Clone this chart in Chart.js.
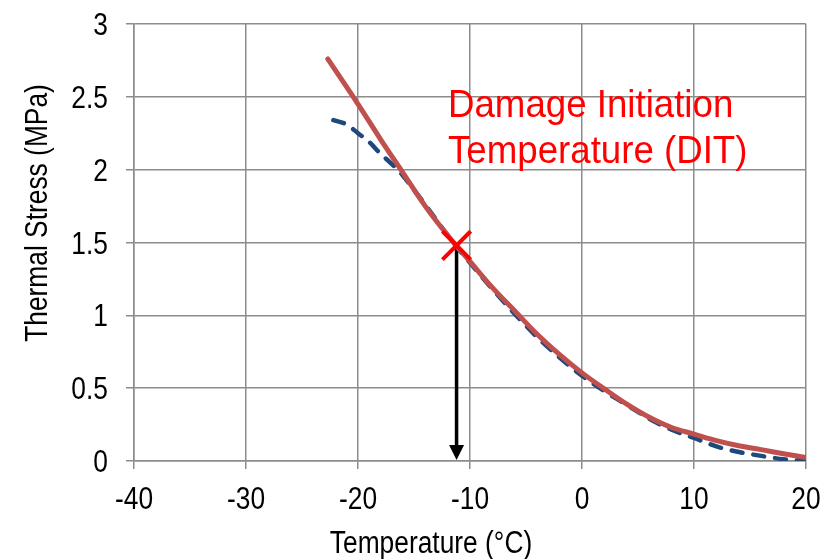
<!DOCTYPE html>
<html>
<head>
<meta charset="utf-8">
<script src="https://cdn.jsdelivr.net/npm/chart.js@4.4.1/dist/chart.umd.min.js"></script>
<style>
  html, body { margin: 0; padding: 0; background: #fff; }
</style>
</head>
<body>
<canvas id="stress-chart" width="831" height="559"></canvas>
<script>
const FONT = "'Liberation Sans', Arial, sans-serif";
const NARROW = 0.85; // condensed look for axis text

// predicted thermal stress (solid curve)
const modelTemp   = [-22.7, -20, -18, -16, -14, -12, -10, -8, -6, -4, -2, 0, 2, 4, 6, 8, 10, 12, 14, 16, 18, 20];
const modelStress = [2.76, 2.45, 2.21, 1.98, 1.75, 1.55, 1.37, 1.19, 1.03, 0.87, 0.73, 0.605, 0.495, 0.39, 0.30, 0.23, 0.185, 0.14, 0.105, 0.078, 0.05, 0.024];

// measured thermal stress (dashed curve)
const testTemp   = [-22.2, -21, -20, -19, -18, -17, -16, -15, -14, -12, -10, -8, -6, -4, -2, 0, 2, 4, 6, 8, 10, 12, 14, 16, 18, 20];
const testStress = [2.34, 2.31, 2.25, 2.19, 2.11, 2.04, 1.96, 1.86, 1.76, 1.55, 1.36, 1.18, 1.01, 0.85, 0.71, 0.585, 0.48, 0.385, 0.29, 0.215, 0.158, 0.10, 0.062, 0.035, 0.012, 0.002];

// damage initiation point
const ditTemp = -11.2;
const ditStress = 1.48;

const noteLines = ['Damage Initiation', 'Temperature (DIT)'];
const xTitle = 'Temperature (°C)';
const yTitle = 'Thermal Stress (MPa)';

const toPoints = (xs, ys) => xs.map((v, i) => ({ x: v, y: ys[i] }));
const fmt = (v) => String(Number(v.toFixed(2)));

function squeezedText(ctx, text, x, y, align, sx) {
  ctx.save();
  ctx.translate(x, y);
  ctx.scale(sx, 1);
  ctx.textAlign = align;
  ctx.fillText(text, 0, 0);
  ctx.restore();
}

// arrow under the DIT marker, tick labels, axis titles and the red note
const extras = {
  id: 'extras',
  beforeDatasetsDraw(chart) {
    const { ctx, scales: { x, y } } = chart;
    const px = x.getPixelForValue(ditTemp);
    const top = y.getPixelForValue(ditStress);
    const bottom = y.getPixelForValue(0);
    ctx.save();
    ctx.strokeStyle = '#000';
    ctx.lineWidth = 3.5;
    ctx.beginPath();
    ctx.moveTo(px, top);
    ctx.lineTo(px, bottom - 12);
    ctx.stroke();
    ctx.fillStyle = '#000';
    ctx.beginPath();
    ctx.moveTo(px - 7.5, bottom - 16);
    ctx.lineTo(px + 7.5, bottom - 16);
    ctx.lineTo(px, bottom - 1);
    ctx.closePath();
    ctx.fill();
    ctx.restore();
  },
  afterDraw(chart) {
    const { ctx, scales: { x, y } } = chart;
    ctx.save();
    ctx.fillStyle = '#000';
    ctx.font = '31px ' + FONT;
    ctx.textBaseline = 'alphabetic';
    y.ticks.forEach((t) => {
      squeezedText(ctx, fmt(t.value), 108, y.getPixelForValue(t.value) + 11, 'right', NARROW);
    });
    x.ticks.forEach((t) => {
      squeezedText(ctx, fmt(t.value), x.getPixelForValue(t.value), 509, 'center', NARROW);
    });
    squeezedText(ctx, xTitle, 431, 553, 'center', NARROW);
    ctx.translate(47, 213);
    ctx.rotate(-Math.PI / 2);
    squeezedText(ctx, yTitle, 0, 0, 'center', NARROW);
    ctx.restore();

    ctx.save();
    ctx.fillStyle = '#ff0000';
    ctx.font = '39px ' + FONT;
    squeezedText(ctx, noteLines[0], 448, 117, 'left', 0.94);
    squeezedText(ctx, noteLines[1], 448, 163, 'left', 0.94);
    ctx.restore();
  }
};

new Chart(document.getElementById('stress-chart'), {
  type: 'line',
  data: {
    datasets: [
      {
        label: 'DIT',
        data: [{ x: ditTemp, y: ditStress }],
        showLine: false,
        pointStyle: 'crossRot',
        pointRadius: 20,
        pointBorderWidth: 4,
        borderColor: '#ff0000',
        backgroundColor: '#ff0000'
      },
      {
        label: 'Model',
        data: toPoints(modelTemp, modelStress),
        borderColor: '#c0504d',
        borderWidth: 5,
        pointRadius: 0,
        cubicInterpolationMode: 'monotone',
        borderCapStyle: 'round'
      },
      {
        label: 'Measured',
        data: toPoints(testTemp, testStress),
        borderColor: '#1f497d',
        borderWidth: 4.5,
        borderDash: [11, 11],
        borderCapStyle: 'round',
        pointRadius: 0,
        cubicInterpolationMode: 'monotone'
      }
    ]
  },
  options: {
    responsive: false,
    devicePixelRatio: 1,
    animation: false,
    layout: { padding: { top: 21, right: 25, left: 0, bottom: 0 } },
    plugins: { legend: { display: false }, tooltip: { enabled: false } },
    scales: {
      x: {
        type: 'linear',
        min: -40,
        max: 20,
        afterFit: (s) => { s.height = 98; },
        ticks: { stepSize: 10, display: false },
        grid: { color: '#8c8c8c', lineWidth: 1.5, tickLength: 8 },
        border: { color: '#8c8c8c', width: 1.5 }
      },
      y: {
        min: 0,
        max: 3,
        afterFit: (s) => { s.width = 134; },
        ticks: { stepSize: 0.5, display: false },
        grid: { color: '#8c8c8c', lineWidth: 1.5, tickLength: 8 },
        border: { color: '#8c8c8c', width: 1.5 }
      }
    }
  },
  plugins: [extras]
});
</script>
</body>
</html>
